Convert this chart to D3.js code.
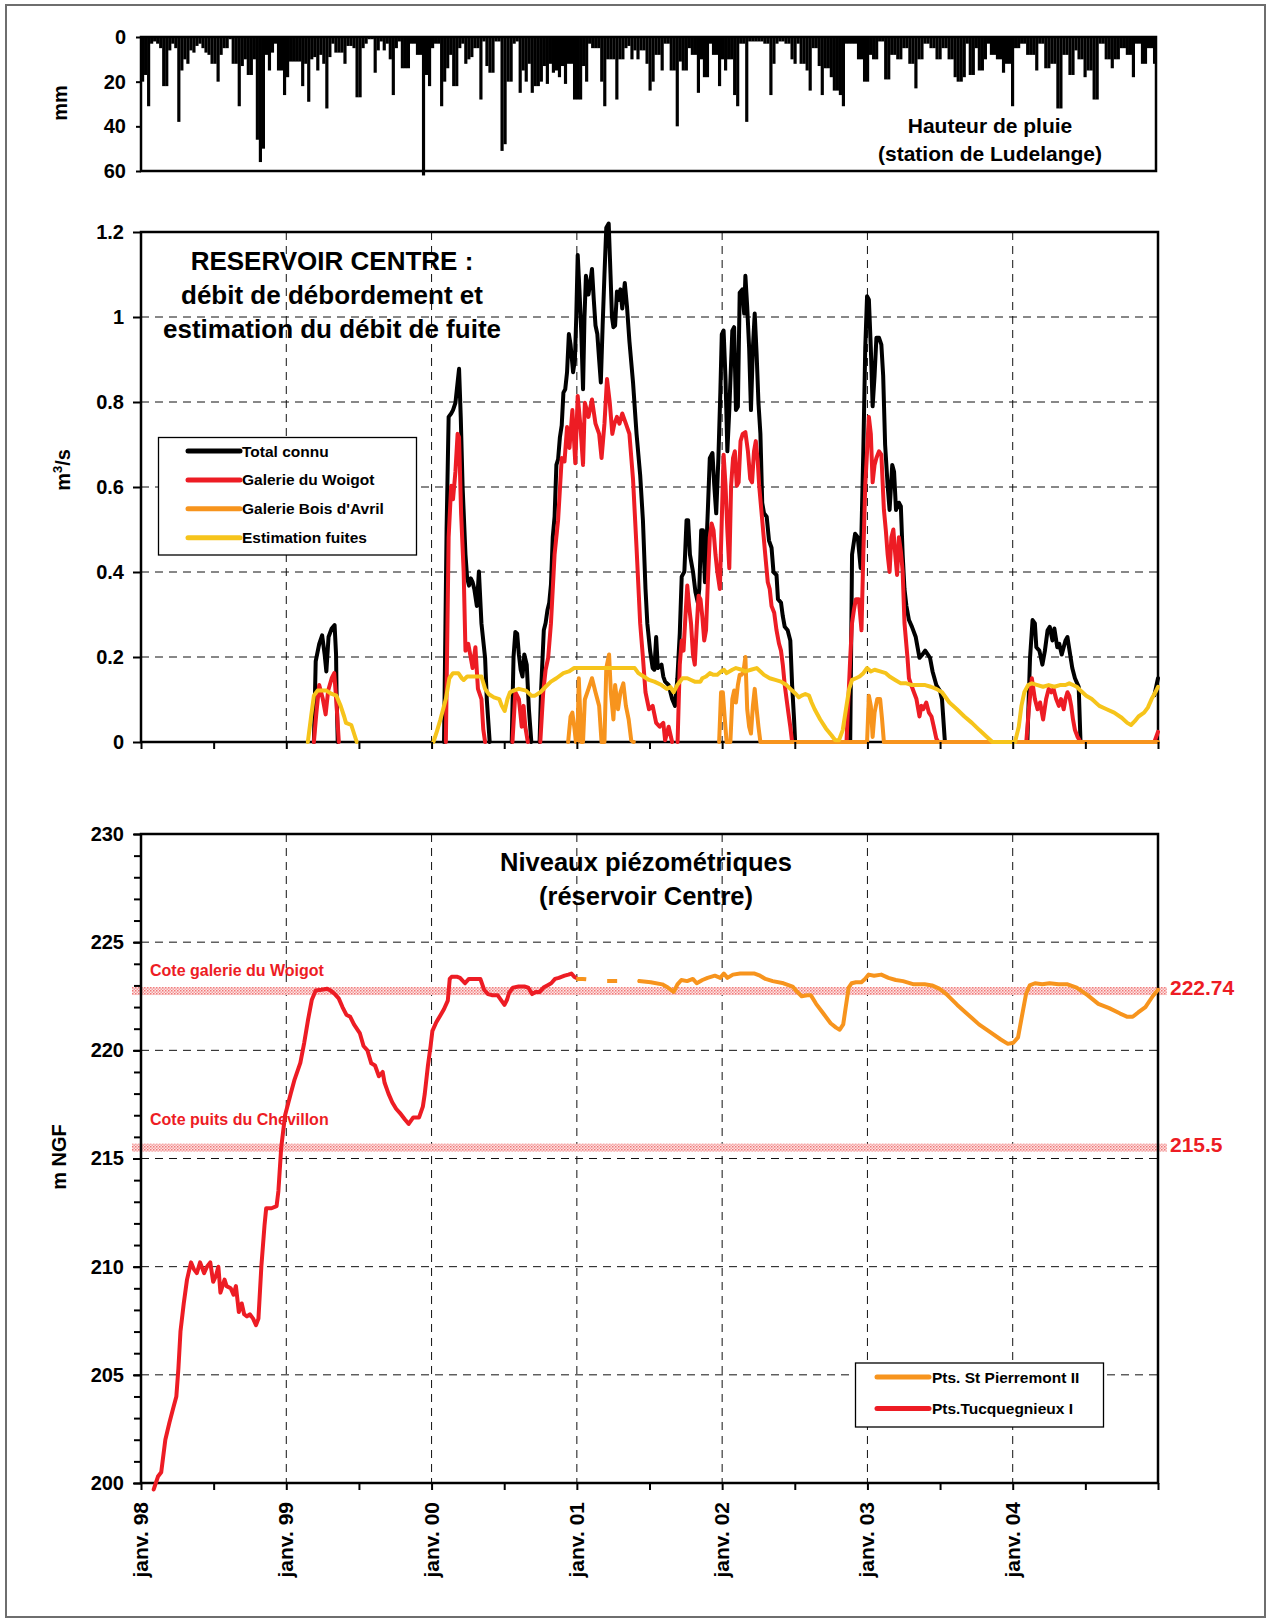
<!DOCTYPE html>
<html>
<head>
<meta charset="utf-8">
<script src="https://cdn.jsdelivr.net/npm/d3@7"></script>
<style>
  body { margin: 0; background: #fff; }
  svg { display: block; font-family: "Liberation Sans", Arial, sans-serif; font-weight: bold; }
</style>
</head>
<body>
<svg id="chart" width="1267" height="1620"></svg>
<script>
// ---------------------------------------------------------------------------
// Data. Time is expressed in months elapsed since January 1998.
// ---------------------------------------------------------------------------

// Daily rainfall summarised as four values per month (mm), Jan 1998 - Dec 2004
const rainfall = [
  20,17,31,3, 2,3,5,22, 22,6,3,5, 38,15,10,12, 6,7,4,3, 5,7,8,12,
  12,20,8,5, 5,1,12,12, 31,13,10,17, 17,10,46,56, 50,8,15,7, 3,15,15,26,
  18,11,11,11, 11,22,12,29, 10,9,15,8, 12,32,9,3, 7,7,7,12, 4,4,5,27,
  27,5,3,1, 1,16,6,2, 6,3,10,26, 5,2,14,14, 14,3,3,8, 8,62,17,22,
  5,3,3,31, 20,14,8,22, 22,5,3,12, 10,9,5,5, 28,2,13,16, 16,2,2,51,
  48,20,20,3, 2,25,15,20, 12,25,22,22, 20,13,21,12, 16,15,18,13, 21,12,12,28,
  28,28,13,20, 3,5,5,5, 20,31,10,10, 10,28,10,10, 5,4,10,6, 10,6,6,12,
  24,20,8,8, 15,3,3,15, 15,40,11,15, 15,5,8,8, 25,10,18,18, 3,8,8,22,
  10,15,10,10, 26,31,3,3, 38,2,2,2, 2,2,3,3, 26,12,3,2, 2,3,3,10,
  12,3,12,12, 15,24,5,5, 13,26,14,14, 18,24,24,26, 31,3,3,3, 3,10,10,20,
  20,8,10,10, 2,2,19,19, 8,8,10,10, 5,5,12,12, 23,10,10,3, 3,5,5,10,
  10,5,5,10, 10,18,20,20, 18,3,17,17, 5,15,15,10, 3,8,8,10, 10,16,12,12,
  31,5,5,3, 3,8,8,8, 15,3,3,14, 14,12,12,32, 32,8,8,17, 17,6,10,10,
  18,15,15,28, 28,3,3,10, 10,14,10,10, 5,5,8,8, 18,3,3,12, 12,5,5,12
];

const yearLabels = ["janv. 98", "janv. 99", "janv. 00", "janv. 01", "janv. 02", "janv. 03", "janv. 04"];
const yearMonths = [0, 12, 24, 36, 48, 60, 72];
const halfYearMonths = [0, 6, 12, 18, 24, 30, 36, 42, 48, 54, 60, 66, 72, 78, 84];

const rainTicks = [0, 20, 40, 60];
const flowTicks = [0, 0.2, 0.4, 0.6, 0.8, 1, 1.2];
const levelTicks = [200, 205, 210, 215, 220, 225, 230];

// Overflow discharge (m3/s) as [month, value]; null separates measured periods
const totalKnown = [
  [14.28,0],[14.43,0.19],[14.72,0.231],[14.96,0.251],[15.17,0.206],[15.31,0.166],[15.49,0.247],
  [15.75,0.267],[15.99,0.275],[16.11,0.206],[16.15,0.12],[16.25,0], null,
  [25.03,0],[25.24,0.5],[25.41,0.765],[25.62,0.773],[25.77,0.781],[25.97,0.798],[26.15,0.846],
  [26.27,0.878],[26.41,0.765],[26.56,0.603],[26.8,0.441],[26.94,0.385],[27.09,0.368],[27.24,0.385],
  [27.39,0.376],[27.53,0.36],[27.74,0.32],[27.91,0.401],[28.12,0.279],[28.42,0.198],[28.56,0.101],[28.8,0], null,
  [30.62,0],[30.77,0.2],[30.92,0.259],[31.07,0.255],[31.21,0.206],[31.36,0.17],[31.51,0.154],
  [31.66,0.206],[31.86,0.182],[32.04,0.077],[32.24,0], null,
  [32.92,0],[33.04,0.117],[33.27,0.263],[33.42,0.28],[33.57,0.31],[33.72,0.328],[33.86,0.37],
  [34.01,0.482],[34.16,0.53],[34.31,0.652],[34.45,0.665],[34.6,0.717],[34.75,0.745],[34.89,0.822],
  [35.04,0.83],[35.19,0.87],[35.34,0.96],[35.48,0.935],[35.69,0.87],[35.84,0.9],[35.95,1.0],
  [36.07,1.146],[36.22,1.06],[36.37,0.96],[36.51,0.83],[36.63,1.0],[36.75,1.097],[36.96,1.053],
  [37.1,1.08],[37.25,1.113],[37.4,1.04],[37.54,0.98],[37.69,0.96],[37.84,0.9],[37.98,0.846],
  [38.13,0.98],[38.28,1.1],[38.43,1.21],[38.63,1.22],[38.78,1.1],[38.9,1.0],[39.02,0.976],
  [39.16,0.98],[39.31,1.06],[39.46,1.04],[39.6,1.065],[39.75,1.02],[39.96,1.08],[40.14,1.025],
  [40.34,0.943],[40.64,0.846],[40.93,0.725],[41.23,0.628],[41.46,0.52],[41.67,0.36],[41.82,0.279],
  [42.05,0.215],[42.26,0.174],[42.4,0.17],[42.55,0.247],[42.69,0.174],[42.99,0.182],[43.14,0.154],
  [43.29,0.142],[43.58,0.134],[43.87,0.101],[44.11,0.085],[44.3,0.15],[44.5,0.255],[44.66,0.389],
  [44.88,0.401],[45.06,0.522],[45.19,0.522],[45.34,0.441],[45.59,0.401],[45.8,0.352],[45.99,0.328],
  [46.11,0.36],[46.27,0.498],[46.42,0.498],[46.58,0.376],[46.82,0.546],[46.98,0.668],[47.2,0.68],
  [47.35,0.603],[47.51,0.538],[47.69,0.668],[47.85,0.822],[47.97,0.959],[48.12,0.968],[48.28,0.854],
  [48.43,0.684],[48.59,0.781],[48.84,0.968],[48.99,0.976],[49.14,0.781],[49.3,0.789],[49.45,1.057],
  [49.67,1.065],[49.82,1.008],[49.92,1.097],[50.07,1.024],[50.23,0.927],[50.38,0.781],[50.54,0.927],
  [50.69,1.008],[50.85,0.911],[51.0,0.798],[51.16,0.725],[51.31,0.563],[51.46,0.538],[51.68,0.53],
  [51.87,0.474],[52.08,0.457],[52.24,0.4],[52.49,0.393],[52.61,0.336],[52.86,0.328],[53.01,0.296],
  [53.17,0.271],[53.41,0.263],[53.63,0.239],[53.78,0.134],[53.94,0.053],[54.03,0], null,
  [58.58,0],[58.73,0.441],[58.98,0.49],[59.2,0.482],[59.44,0.409],[59.66,0.684],[59.82,0.927],
  [59.97,1.049],[60.12,1.041],[60.28,0.927],[60.43,0.79],[60.59,0.862],[60.74,0.951],[60.96,0.951],
  [61.15,0.935],[61.3,0.862],[61.46,0.7],[61.67,0.603],[61.83,0.546],[62.05,0.652],[62.2,0.636],
  [62.36,0.546],[62.6,0.563],[62.76,0.555],[62.91,0.441],[63.06,0.36],[63.22,0.32],[63.43,0.287],
  [63.68,0.271],[63.99,0.247],[64.3,0.198],[64.55,0.206],[64.77,0.215],[64.98,0.206],[65.17,0.198],
  [65.38,0.166],[65.69,0.134],[66.0,0.12],[66.16,0.1],[66.4,0], null,
  [73.21,0],[73.43,0.198],[73.64,0.287],[73.83,0.279],[73.95,0.223],[74.2,0.215],[74.45,0.182],
  [74.66,0.215],[74.88,0.263],[75.06,0.271],[75.28,0.239],[75.44,0.267],[75.68,0.223],[75.84,0.231],
  [76.05,0.206],[76.21,0.223],[76.36,0.239],[76.52,0.247],[76.67,0.219],[76.92,0.174],[77.14,0.15],
  [77.45,0.13],[77.6,0], null,
  [83.7,0.11],[84,0.15]
];

const woigotGallery = [
  [14.28,0],[14.49,0.07],[14.72,0.134],[15.02,0.101],[15.25,0.065],[15.46,0.121],[15.75,0.15],
  [15.96,0.162],[16.14,0.093],[16.34,0], null,
  [25.18,0],[25.41,0.482],[25.62,0.603],[25.77,0.571],[25.97,0.636],[26.15,0.725],[26.27,0.717],
  [26.44,0.538],[26.65,0.401],[26.8,0.215],[27.03,0.231],[27.24,0.198],[27.39,0.174],[27.62,0.223],
  [27.83,0.125],[28.12,0.101],[28.27,0.03],[28.42,0], null,
  [30.68,0],[30.92,0.117],[31.21,0.101],[31.45,0.036],[31.6,0.085],[31.74,0.036],[31.95,0], null,
  [32.98,0],[33.22,0.117],[33.42,0.17],[33.63,0.198],[33.86,0.279],[34.16,0.441],[34.45,0.522],
  [34.75,0.668],[34.98,0.66],[35.19,0.741],[35.39,0.692],[35.63,0.781],[35.87,0.656],[36.07,0.814],
  [36.28,0.749],[36.51,0.652],[36.66,0.798],[36.96,0.765],[37.25,0.806],[37.54,0.749],[37.84,0.725],
  [38.04,0.668],[38.28,0.749],[38.49,0.854],[38.72,0.798],[38.93,0.725],[39.1,0.749],[39.31,0.765],
  [39.52,0.749],[39.75,0.773],[40.05,0.749],[40.34,0.725],[40.64,0.618],[40.93,0.457],[41.23,0.279],
  [41.46,0.198],[41.67,0.117],[41.96,0.077],[42.26,0.085],[42.55,0.045],[42.84,0.036],[43.14,0.045],
  [43.29,0.004],[43.58,0.036],[43.87,0], null,
  [44.32,0],[44.5,0.182],[44.66,0.239],[44.81,0.215],[44.97,0.296],[45.12,0.368],[45.27,0.32],
  [45.43,0.279],[45.59,0.206],[45.74,0.182],[45.9,0.271],[46.05,0.344],[46.21,0.336],[46.36,0.296],
  [46.52,0.239],[46.67,0.263],[46.82,0.377],[46.98,0.482],[47.13,0.514],[47.29,0.498],[47.45,0.441],
  [47.6,0.401],[47.81,0.36],[47.97,0.522],[48.12,0.676],[48.28,0.603],[48.43,0.498],[48.59,0.409],
  [48.74,0.603],[48.9,0.668],[49.05,0.684],[49.21,0.603],[49.36,0.611],[49.52,0.708],[49.7,0.725],
  [49.92,0.729],[50.13,0.684],[50.32,0.619],[50.47,0.611],[50.63,0.684],[50.78,0.708],[50.94,0.66],
  [51.06,0.603],[51.31,0.522],[51.56,0.441],[51.77,0.376],[51.93,0.36],[52.08,0.32],[52.3,0.304],
  [52.49,0.263],[52.7,0.231],[52.86,0.215],[53.01,0.182],[53.17,0.134],[53.32,0.101],[53.47,0.069],
  [53.63,0.036],[53.78,0], null,
  [58.27,0],[58.58,0.198],[58.73,0.28],[58.89,0.312],[59.05,0.336],[59.29,0.336],[59.51,0.263],
  [59.66,0.441],[59.82,0.603],[59.97,0.684],[60.12,0.765],[60.28,0.725],[60.43,0.611],[60.59,0.652],
  [60.74,0.668],[60.96,0.684],[61.15,0.676],[61.36,0.547],[61.52,0.498],[61.67,0.441],[61.83,0.4],
  [61.98,0.482],[62.14,0.5],[62.3,0.441],[62.45,0.393],[62.6,0.482],[62.76,0.449],[62.91,0.401],
  [63.06,0.28],[63.31,0.198],[63.43,0.15],[63.62,0.134],[63.84,0.117],[64.05,0.101],[64.3,0.06],
  [64.46,0.085],[64.61,0.077],[64.86,0.093],[65.08,0.069],[65.29,0.06],[65.48,0.036],[65.69,0.008],
  [65.85,0], null,
  [73.12,0],[73.33,0.077],[73.58,0.15],[73.83,0.101],[74.05,0.077],[74.26,0.093],[74.51,0.053],
  [74.76,0.101],[74.97,0.125],[75.19,0.117],[75.37,0.125],[75.59,0.101],[75.81,0.085],[75.99,0.101],
  [76.21,0.077],[76.36,0.101],[76.52,0.117],[76.67,0.109],[76.83,0.085],[76.98,0.053],[77.14,0.028],
  [77.36,0.012],[77.6,0], null,
  [83.7,0],[84,0.024]
];

const boisAvrilGallery = [
  [35.28,0],[35.48,0.06],[35.63,0.069],[35.81,0.03],[35.92,0],[36.04,0],[36.16,0.15],[36.37,0],
  [36.51,0],[36.66,0.1],[36.96,0.125],[37.25,0.15],[37.54,0.117],[37.84,0.085],[38.04,0],[38.28,0],
  [38.43,0.174],[38.66,0.206],[38.81,0.117],[39.02,0.053],[39.16,0.134],[39.4,0.077],[39.6,0.117],
  [39.84,0.138],[40.05,0.085],[40.28,0.053],[40.49,0.004],[40.7,0], null,
  [47.75,0],[47.91,0.117],[48.06,0.117],[48.22,0.053],[48.37,0],[48.68,0],[48.84,0.101],[48.99,0.121],
  [49.14,0.093],[49.3,0.134],[49.45,0.158],[49.61,0.158],[49.76,0.166],[49.92,0.2],[50.07,0.077],
  [50.23,0.036],[50.38,0.02],[50.54,0.085],[50.69,0.125],[50.85,0.077],[51.0,0.036],[51.16,0],
  [59.97,0],[60.12,0.109],[60.28,0.085],[60.43,0.012],[60.59,0.069],[60.81,0.101],[61.05,0.101],
  [61.21,0.053],[61.36,0],[84,0]
];

const leakEstimate = [
  [13.78,0],[14.05,0.06],[14.28,0.109],[14.58,0.121],[15.31,0.121],[15.75,0.113],[16.14,0.109],
  [16.49,0.085],[16.78,0.06],[16.93,0.045],[17.37,0.04],[17.82,0], null,
  [24.15,0],[24.44,0.025],[24.73,0.053],[25.18,0.101],[25.47,0.15],[25.77,0.162],[26.21,0.162],
  [26.5,0.15],[26.65,0.146],[26.94,0.154],[27.39,0.154],[28.12,0.154],[28.42,0.125],[28.71,0.113],
  [29.15,0.105],[29.59,0.101],[29.8,0.085],[30.04,0.073],[30.27,0.101],[30.48,0.117],[30.77,0.121],
  [31.21,0.125],[31.8,0.121],[32.24,0.109],[32.54,0.109],[32.98,0.117],[33.42,0.13],[33.86,0.142],
  [34.31,0.15],[34.89,0.162],[35.34,0.166],[35.78,0.174],[37.4,0.174],[38.87,0.174],[40.78,0.174],
  [41.08,0.162],[41.52,0.154],[41.96,0.146],[42.4,0.142],[42.99,0.134],[43.43,0.125],[43.73,0.129],
  [43.99,0.117],[44.29,0.134],[44.73,0.15],[45.12,0.15],[45.43,0.146],[45.74,0.142],[46.21,0.142],
  [46.36,0.15],[46.67,0.154],[46.98,0.162],[47.29,0.158],[47.6,0.158],[47.91,0.166],[48.15,0.17],
  [48.37,0.162],[48.84,0.17],[49.14,0.174],[49.61,0.17],[49.92,0.166],[50.38,0.17],[50.85,0.174],
  [51.16,0.166],[51.46,0.158],[51.93,0.15],[52.39,0.146],[52.86,0.142],[53.32,0.134],[53.78,0.121],
  [54.09,0.113],[54.34,0.105],[54.56,0.109],[54.87,0.113],[55.18,0.109],[55.39,0.093],[55.64,0.077],
  [56.1,0.053],[56.57,0.032],[57.03,0.016],[57.34,0.004],[57.65,0.004],[57.96,0.028],[58.27,0.085],
  [58.49,0.125],[58.73,0.146],[59.05,0.15],[59.35,0.154],[59.66,0.162],[59.97,0.174],[60.28,0.166],
  [60.59,0.17],[61.05,0.166],[61.52,0.162],[61.83,0.154],[62.29,0.146],[62.76,0.138],[63.22,0.138],
  [63.68,0.134],[64.77,0.134],[65.23,0.13],[65.69,0.125],[66.16,0.117],[66.77,0.093],[67.39,0.077],
  [68.01,0.06],[68.63,0.045],[69.25,0.028],[69.87,0.012],[70.33,0],[72.19,0],[72.5,0.036],
  [72.72,0.085],[72.96,0.117],[73.27,0.134],[73.58,0.138],[74.05,0.134],[74.51,0.13],[74.97,0.134],
  [75.44,0.13],[75.9,0.134],[76.36,0.134],[76.67,0.138],[76.98,0.134],[77.29,0.13],[77.6,0.121],
  [78.07,0.109],[78.53,0.101],[79.15,0.085],[79.76,0.077],[80.38,0.069],[81.0,0.057],[81.46,0.045],
  [81.77,0.04],[82.08,0.049],[82.39,0.06],[82.85,0.069],[83.16,0.081],[83.47,0.101],[83.78,0.117],
  [84,0.13]
];

// Piezometric levels (m NGF) as [month, level]
const tucquegnieux = [
  [1.05,199.7],[1.4,200.3],[1.67,200.5],[2.01,202.0],[2.35,202.8],[2.68,203.5],[2.92,204.0],
  [3.09,205.3],[3.26,207.0],[3.53,208.3],[3.8,209.4],[4.13,210.2],[4.35,209.9],[4.61,209.7],
  [4.88,210.2],[5.21,209.7],[5.45,210.0],[5.72,210.2],[5.96,209.3],[6.2,209.6],[6.39,210.0],
  [6.56,208.8],[6.9,209.4],[7.07,209.1],[7.41,209.0],[7.64,208.7],[7.84,209.1],[8.08,207.9],
  [8.32,208.3],[8.52,207.8],[8.75,207.7],[8.99,207.8],[9.26,207.6],[9.5,207.3],[9.7,207.6],
  [9.94,210.0],[10.2,211.9],[10.34,212.7],[10.78,212.7],[11.2,212.8],[11.35,213.5],[11.58,215.5],
  [11.9,217.0],[12.37,218.0],[12.69,218.66],[13.16,219.42],[13.48,220.35],[13.8,221.42],
  [14.11,222.34],[14.43,222.77],[14.9,222.8],[15.38,222.85],[15.69,222.75],[16.01,222.6],
  [16.33,222.4],[16.64,222.0],[16.96,221.65],[17.28,221.55],[17.59,221.2],[18.07,220.8],
  [18.38,220.2],[18.7,220.0],[19.02,219.4],[19.33,219.3],[19.65,218.8],[19.96,219.0],[20.12,218.5],
  [20.44,218.0],[20.75,217.6],[21.07,217.3],[21.39,217.1],[21.8,216.8],[22.11,216.6],[22.49,216.9],
  [22.97,216.9],[23.28,217.4],[23.44,218.0],[23.7,219.3],[23.92,220.2],[24.07,220.9],[24.39,221.3],
  [24.71,221.6],[25.02,221.9],[25.34,222.3],[25.5,223.3],[25.66,223.4],[26.13,223.4],[26.35,223.35],
  [26.76,223.1],[27.08,223.3],[27.55,223.3],[28.03,223.3],[28.34,222.8],[28.66,222.6],[28.98,222.55],
  [29.45,222.55],[29.77,222.3],[30.02,222.1],[30.24,222.35],[30.4,222.65],[30.72,222.9],
  [31.19,222.95],[31.67,222.95],[31.98,222.9],[32.3,222.6],[32.61,222.7],[32.93,222.7],[33.25,222.9],
  [33.56,223.0],[33.88,223.1],[34.2,223.3],[34.51,223.35],[34.99,223.45],[35.3,223.5],[35.55,223.55],
  [35.78,223.4],[35.93,223.35]
];

// Sparse readings at the start of the St Pierremont II record
const pierremontSparse = [
  [35.95,223.3],[36.5,223.3],[37.5,223.25],[38.5,223.2],[39.5,223.2],[40.5,223.2],[41.15,223.2]
];

const pierremont = [
  [41.15,223.2],[42.1,223.15],[43.05,223.05],[43.52,222.9],[44.0,222.7],[44.31,223.05],[44.63,223.25],
  [45.11,223.2],[45.58,223.3],[45.9,223.1],[46.37,223.25],[46.8,223.35],[47.4,223.45],[47.84,223.35],
  [48.14,223.55],[48.44,223.35],[48.89,223.5],[49.49,223.55],[50.09,223.55],[50.68,223.55],
  [51.13,223.45],[51.58,223.3],[52.18,223.2],[53.07,223.1],[53.82,222.95],[54.12,222.75],[54.57,222.5],
  [55.02,222.55],[55.32,222.55],[55.76,222.15],[56.36,221.7],[56.96,221.25],[57.41,221.05],
  [57.71,220.95],[58.0,221.2],[58.21,222.0],[58.45,222.9],[58.69,223.1],[59.05,223.15],[59.5,223.15],
  [59.8,223.3],[60.1,223.5],[60.55,223.45],[61.14,223.5],[61.74,223.35],[62.34,223.25],[62.94,223.2],
  [63.83,223.05],[64.73,223.05],[65.33,223.0],[65.93,222.85],[66.52,222.6],[67.42,222.1],
  [68.32,221.65],[69.21,221.2],[70.11,220.85],[71.01,220.5],[71.6,220.3],[72.05,220.35],[72.44,220.6],
  [72.8,221.7],[73.1,222.6],[73.4,223.0],[73.84,223.1],[74.44,223.05],[75.04,223.1],[75.79,223.05],
  [76.53,223.05],[77.28,222.9],[78.18,222.55],[79.07,222.15],[79.97,221.95],[80.87,221.7],
  [81.47,221.55],[81.91,221.55],[82.36,221.75],[82.96,222.0],[83.56,222.5],[84,222.8]
];

// Reference elevations (m NGF)
const referenceLevels = [
  { value: 222.74, name: "Cote galerie du Woigot" },
  { value: 215.5, name: "Cote puits du Chevillon" }
];

// ---------------------------------------------------------------------------
// Drawing
// ---------------------------------------------------------------------------
const C = {
  black: "#000000",
  red: "#ED1C24",
  orange: "#F7941D",
  yellow: "#F6C41B"
};

const svg = d3.select("#chart");

// Outer frame
svg.append("rect")
  .attr("x", 6).attr("y", 5).attr("width", 1259).attr("height", 1612)
  .attr("fill", "none").attr("stroke", "#6e6e6e").attr("stroke-width", 2);

const defs = svg.append("defs");
const pat = defs.append("pattern")
  .attr("id", "dots").attr("width", 3).attr("height", 3)
  .attr("patternUnits", "userSpaceOnUse");
pat.append("rect").attr("width", 3).attr("height", 3).attr("fill", "#fde4e4");
pat.append("rect").attr("width", 1.5).attr("height", 1.5).attr("fill", "#f07575");
pat.append("rect").attr("x", 1.5).attr("y", 1.5).attr("width", 1.5).attr("height", 1.5).attr("fill", "#f3a0a0");

const fmtFlow = d => (d === 0 ? "0" : String(+d.toFixed(1)));

function styleAxis(g, fontSize) {
  g.selectAll(".domain").remove();
  g.selectAll(".tick line").attr("stroke", "#000").attr("stroke-width", 2);
  g.selectAll(".tick text")
    .attr("font-size", fontSize)
    .attr("font-weight", "bold")
    .attr("font-family", "'Liberation Sans', Arial, sans-serif")
    .attr("fill", "#000");
}

function frame(g, x0, x1, y0, y1, w) {
  g.append("rect")
    .attr("x", x0).attr("y", y0).attr("width", x1 - x0).attr("height", y1 - y0)
    .attr("fill", "none").attr("stroke", "#000").attr("stroke-width", w);
}

function yTitle(x, y, parts) {
  const t = svg.append("text")
    .attr("transform", `translate(${x},${y}) rotate(-90)`)
    .attr("text-anchor", "middle")
    .attr("font-size", 20);
  parts.forEach(p => {
    const s = t.append("tspan").text(p.text);
    if (p.sup) s.attr("font-size", 13).attr("dy", -8);
    if (p.after) s.attr("dy", 8);
  });
}

// ---------------- Rainfall panel ----------------
const R = { left: 141, right: 1156, top: 37, bottom: 171 };
const xRain = d3.scaleLinear().domain([0, 84]).range([R.left, R.right]);
const yRain = d3.scaleLinear().domain([0, 60]).range([R.top, R.bottom]);

const rainG = svg.append("g");
rainG.selectAll("rect.bar")
  .data(rainfall)
  .join("rect")
  .attr("class", "bar")
  .attr("x", (d, i) => xRain(i / 4))
  .attr("width", (d, i) => xRain((i + 1) / 4) - xRain(i / 4) + 0.15)
  .attr("y", yRain(0))
  .attr("height", d => yRain(d) - yRain(0))
  .attr("fill", "#000");

frame(rainG, R.left, R.right, R.top, R.bottom, 2.5);

const rainAxis = rainG.append("g")
  .attr("transform", `translate(${R.left},0)`)
  .call(d3.axisLeft(yRain).tickValues(rainTicks).tickSize(5).tickPadding(10));
styleAxis(rainAxis, 20);

svg.append("text").attr("x", 990).attr("y", 133).attr("text-anchor", "middle")
  .attr("font-size", 21).text("Hauteur de pluie");
svg.append("text").attr("x", 990).attr("y", 161).attr("text-anchor", "middle")
  .attr("font-size", 21).text("(station de Ludelange)");
yTitle(67, 103, [{ text: "mm" }]);

// ---------------- Discharge panel ----------------
const F = { left: 141, right: 1158, top: 232, bottom: 742 };
const xFlow = d3.scaleLinear().domain([0, 84]).range([F.left, F.right]);
const yFlow = d3.scaleLinear().domain([0, 1.2]).range([F.bottom, F.top]);

const flowG = svg.append("g");

// dashed grid
flowG.selectAll("line.hgrid")
  .data(flowTicks.filter(v => v > 0 && v < 1.2))
  .join("line")
  .attr("x1", F.left).attr("x2", F.right)
  .attr("y1", d => yFlow(d)).attr("y2", d => yFlow(d))
  .attr("stroke", "#111").attr("stroke-width", 1).attr("stroke-dasharray", "8,6");
flowG.selectAll("line.vgrid")
  .data(yearMonths.filter(m => m > 0))
  .join("line")
  .attr("x1", d => xFlow(d)).attr("x2", d => xFlow(d))
  .attr("y1", F.top).attr("y2", F.bottom)
  .attr("stroke", "#111").attr("stroke-width", 1).attr("stroke-dasharray", "8,6");

// frame first so that series lying on zero stay visible over the axis
frame(flowG, F.left, F.right, F.top, F.bottom, 2.5);

const flowLine = d3.line()
  .defined(d => d !== null)
  .x(d => xFlow(d[0]))
  .y(d => yFlow(d[1]));

[[totalKnown, C.black], [woigotGallery, C.red], [boisAvrilGallery, C.orange], [leakEstimate, C.yellow]]
  .forEach(([data, color]) => {
    flowG.append("path")
      .datum(data)
      .attr("d", flowLine)
      .attr("fill", "none")
      .attr("stroke", color)
      .attr("stroke-width", 4)
      .attr("stroke-linejoin", "round")
      .attr("stroke-linecap", "round");
  });

const flowYAxis = flowG.append("g")
  .attr("transform", `translate(${F.left},0)`)
  .call(d3.axisLeft(yFlow).tickValues(flowTicks).tickFormat(fmtFlow).tickSize(8).tickPadding(9));
styleAxis(flowYAxis, 20);
const flowXAxis = flowG.append("g")
  .attr("transform", `translate(0,${F.bottom})`)
  .call(d3.axisBottom(xFlow).tickValues(halfYearMonths).tickFormat("").tickSize(7));
styleAxis(flowXAxis, 20);

[["RESERVOIR CENTRE :", 270], ["débit de débordement et", 304], ["estimation du débit de fuite", 338]]
  .forEach(([t, y]) => {
    svg.append("text").attr("x", 332).attr("y", y).attr("text-anchor", "middle")
      .attr("font-size", 26).text(t);
  });

yTitle(70, 470, [{ text: "m" }, { text: "3", sup: true }, { text: "/s", after: true }]);

// Legend
const legF = svg.append("g");
legF.append("rect").attr("x", 158.5).attr("y", 437.5).attr("width", 258).attr("height", 117.5)
  .attr("fill", "#fff").attr("stroke", "#000").attr("stroke-width", 1.3);
[["Total connu", C.black], ["Galerie du Woigot", C.red], ["Galerie Bois d'Avril", C.orange], ["Estimation fuites", C.yellow]]
  .forEach(([label, color], i) => {
    const y = 451 + i * 28.9;
    legF.append("line").attr("x1", 188).attr("x2", 240).attr("y1", y).attr("y2", y)
      .attr("stroke", color).attr("stroke-width", 5).attr("stroke-linecap", "round");
    legF.append("text").attr("x", 242).attr("y", y + 5.5).attr("font-size", 15.5).text(label);
  });

// ---------------- Piezometric panel ----------------
const P = { left: 141, right: 1158, top: 834, bottom: 1483 };
const xLev = d3.scaleLinear().domain([0, 84]).range([P.left, P.right]);
const yLev = d3.scaleLinear().domain([200, 230]).range([P.bottom, P.top]);

const levG = svg.append("g");
levG.selectAll("line.hgrid")
  .data(levelTicks.filter(v => v > 200 && v < 230))
  .join("line")
  .attr("x1", P.left).attr("x2", P.right)
  .attr("y1", d => yLev(d)).attr("y2", d => yLev(d))
  .attr("stroke", "#111").attr("stroke-width", 1).attr("stroke-dasharray", "8,6");
levG.selectAll("line.vgrid")
  .data(yearMonths.filter(m => m > 0))
  .join("line")
  .attr("x1", d => xLev(d)).attr("x2", d => xLev(d))
  .attr("y1", P.top).attr("y2", P.bottom)
  .attr("stroke", "#111").attr("stroke-width", 1).attr("stroke-dasharray", "8,6");

// Reference elevation bands
referenceLevels.forEach(r => {
  levG.append("rect")
    .attr("x", 132).attr("width", 1167 - 132)
    .attr("y", yLev(r.value) - 4).attr("height", 8)
    .attr("fill", "url(#dots)");
  svg.append("text")
    .attr("x", 1170).attr("y", yLev(r.value) + 4)
    .attr("font-size", 21).attr("fill", C.red)
    .text(String(r.value));
});
svg.append("text").attr("x", 150).attr("y", 976).attr("font-size", 16).attr("fill", C.red)
  .text(referenceLevels[0].name);
svg.append("text").attr("x", 150).attr("y", 1125).attr("font-size", 16).attr("fill", C.red)
  .text(referenceLevels[1].name);

frame(levG, P.left, P.right, P.top, P.bottom, 2.5);

const levLine = d3.line().x(d => xLev(d[0])).y(d => yLev(d[1]));

levG.append("path").datum(tucquegnieux).attr("d", levLine)
  .attr("fill", "none").attr("stroke", C.red).attr("stroke-width", 4)
  .attr("stroke-linejoin", "round").attr("stroke-linecap", "round");
levG.append("path").datum(pierremontSparse).attr("d", levLine)
  .attr("fill", "none").attr("stroke", C.orange).attr("stroke-width", 4)
  .attr("stroke-dasharray", "10,21");
levG.append("path").datum(pierremont).attr("d", levLine)
  .attr("fill", "none").attr("stroke", C.orange).attr("stroke-width", 4)
  .attr("stroke-linejoin", "round").attr("stroke-linecap", "round");

const levMinor = levG.append("g")
  .attr("transform", `translate(${P.left},0)`)
  .call(d3.axisLeft(yLev).tickValues(d3.range(200, 231, 1)).tickFormat("").tickSize(7));
styleAxis(levMinor, 20);
const levMajor = levG.append("g")
  .attr("transform", `translate(${P.left},0)`)
  .call(d3.axisLeft(yLev).tickValues(levelTicks).tickSize(8).tickPadding(9));
styleAxis(levMajor, 20);
const levX = levG.append("g")
  .attr("transform", `translate(0,${P.bottom})`)
  .call(d3.axisBottom(xLev).tickValues(halfYearMonths).tickFormat("").tickSize(7));
styleAxis(levX, 20);

// Date labels
svg.selectAll("text.date")
  .data(yearMonths)
  .join("text")
  .attr("class", "date")
  .attr("transform", (d, i) => `translate(${xLev(d) + 7},1502) rotate(-90)`)
  .attr("text-anchor", "end")
  .attr("font-size", 21)
  .text((d, i) => yearLabels[i]);

svg.append("text").attr("x", 646).attr("y", 871).attr("text-anchor", "middle")
  .attr("font-size", 25.5).text("Niveaux piézométriques");
svg.append("text").attr("x", 646).attr("y", 905).attr("text-anchor", "middle")
  .attr("font-size", 25.5).text("(réservoir Centre)");

yTitle(66, 1157, [{ text: "m NGF" }]);

// Legend
const legP = svg.append("g");
legP.append("rect").attr("x", 855.5).attr("y", 1363).attr("width", 248).attr("height", 64)
  .attr("fill", "#fff").attr("stroke", "#000").attr("stroke-width", 1.3);
[["Pts. St Pierremont II", C.orange], ["Pts.Tucquegnieux I", C.red]].forEach(([label, color], i) => {
  const y = 1377 + i * 31.5;
  legP.append("line").attr("x1", 877).attr("x2", 929).attr("y1", y).attr("y2", y)
    .attr("stroke", color).attr("stroke-width", 5).attr("stroke-linecap", "round");
  legP.append("text").attr("x", 932).attr("y", y + 5.5).attr("font-size", 15.5).text(label);
});
</script>
</body>
</html>
